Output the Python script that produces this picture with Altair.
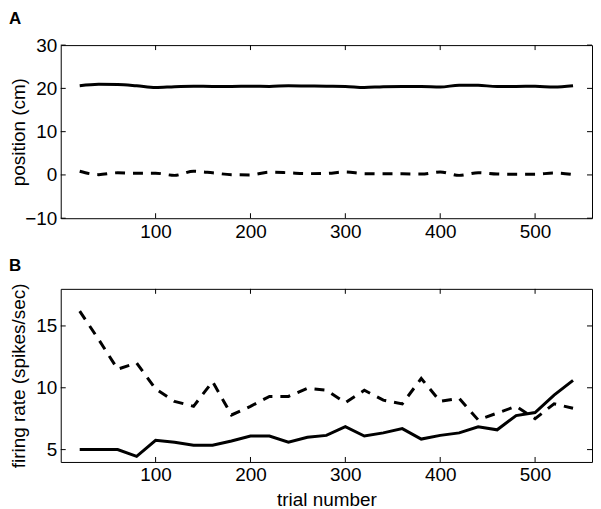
import altair as alt
import pandas as pd

# ---- data ----
trials = [20, 40, 60, 80, 100, 120, 140, 160, 180, 200, 220, 240, 260, 280,
          300, 320, 340, 360, 380, 400, 420, 440, 460, 480, 500, 520, 540]

pos_solid = [20.6, 20.95, 20.9, 20.6, 20.2, 20.4, 20.5, 20.45, 20.45, 20.5,
             20.45, 20.6, 20.55, 20.5, 20.45, 20.2, 20.4, 20.45, 20.45, 20.3,
             20.75, 20.7, 20.45, 20.45, 20.5, 20.3, 20.6]
pos_dashed = [0.85, 0.07, 0.5, 0.4, 0.4, -0.1, 0.85, 0.5, 0.05, 0.0,
              0.65, 0.5, 0.3, 0.35, 0.7, 0.3, 0.25, 0.25, 0.2, 0.7,
              -0.1, 0.5, 0.2, 0.15, 0.15, 0.45, 0.1]

rate_solid = [5.0, 5.0, 5.0, 4.45, 5.75, 5.6, 5.35, 5.35, 5.7, 6.1,
              6.1, 5.6, 6.0, 6.15, 6.85, 6.1, 6.35, 6.7, 5.85, 6.15,
              6.35, 6.85, 6.6, 7.75, 8.0, 9.4, 10.6]
rate_dashed = [16.2, 13.9, 11.5, 12.0, 9.9, 8.9, 8.5, 10.5, 7.8, 8.5,
               9.3, 9.3, 9.95, 9.8, 8.8, 9.8, 9.0, 8.7, 10.75, 8.9,
               9.15, 7.4, 7.95, 8.5, 7.5, 8.7, 8.35]

x_ticks = [100, 200, 300, 400, 500]
pos_ticks = [-10, 0, 10, 20, 30]
rate_ticks = [5, 10, 15]

W, H = 534, 174
FONT = "Liberation Sans"
TICK = 5
FS = 19


def panel(solid, dashed, ydomain, yticks, ytitle, letter, interp, xtitle=None):
    df = pd.DataFrame({"trial": trials, "solid": solid, "dashed": dashed})
    xs = alt.Scale(domain=[0, 560], nice=False, zero=False)
    ys = alt.Scale(domain=ydomain, nice=False, zero=False)
    xaxis = alt.Axis(values=x_ticks, format="d", title=xtitle)
    yaxis = alt.Axis(values=yticks, format="d", title=ytitle,
                     titleX=-32, titleY=H / 2, titleAngle=270,
                     titleBaseline="bottom", titleAlign="center")

    def X(f):
        return alt.X(f, scale=xs, axis=xaxis)

    def Y(f):
        return alt.Y(f, scale=ys, axis=yaxis)

    base = alt.Chart(df)
    l1 = base.mark_line(color="black", strokeWidth=3, interpolate=interp).encode(
        x=X("trial:Q"), y=Y("solid:Q"))
    l2 = base.mark_line(color="black", strokeWidth=3, strokeDash=[10, 8],
                        interpolate=interp).encode(x=X("trial:Q"), y=Y("dashed:Q"))
    xt = alt.Chart(pd.DataFrame({"v": x_ticks}))
    yt = alt.Chart(pd.DataFrame({"v": yticks}))
    tb = xt.mark_rule(color="black", strokeWidth=1).encode(
        x=X("v:Q"), y=alt.value(H), y2=alt.value(H - TICK))
    tt = xt.mark_rule(color="black", strokeWidth=1).encode(
        x=X("v:Q"), y=alt.value(0), y2=alt.value(TICK))
    tl = yt.mark_rule(color="black", strokeWidth=1).encode(
        y=Y("v:Q"), x=alt.value(0), x2=alt.value(TICK))
    tr = yt.mark_rule(color="black", strokeWidth=1).encode(
        y=Y("v:Q"), x=alt.value(W - TICK), x2=alt.value(W))
    return alt.layer(l1, l2, tb, tt, tl, tr).properties(
        width=W, height=H,
        title=alt.TitleParams(letter, anchor="start", frame="group", fontSize=17,
                              fontWeight="bold", font=FONT, color="black",
                              dx=-52, dy=5, offset=0, baseline="alphabetic"),
    )


pA = panel(pos_solid, pos_dashed, [-10, 30], pos_ticks, "position (cm)", "A", "monotone")
pB = panel(rate_solid, rate_dashed, [4, 18], rate_ticks, "firing rate (spikes/sec)", "B",
           "linear", xtitle="trial number")

chart = alt.vconcat(pA, pB, spacing=14).properties(
    padding={"left": 0, "top": 0, "right": 0, "bottom": 0}
).configure_view(
    stroke="black", strokeWidth=1
).configure_axis(
    domain=False, ticks=False, grid=False,
    labelFont=FONT, titleFont=FONT, labelFontSize=FS, titleFontSize=FS,
    labelColor="black", titleColor="black", titleFontWeight="normal",
    labelPadding=4, titlePadding=6,
)

chart.save("out.html", embed_options={"renderer": "svg", "actions": False})
